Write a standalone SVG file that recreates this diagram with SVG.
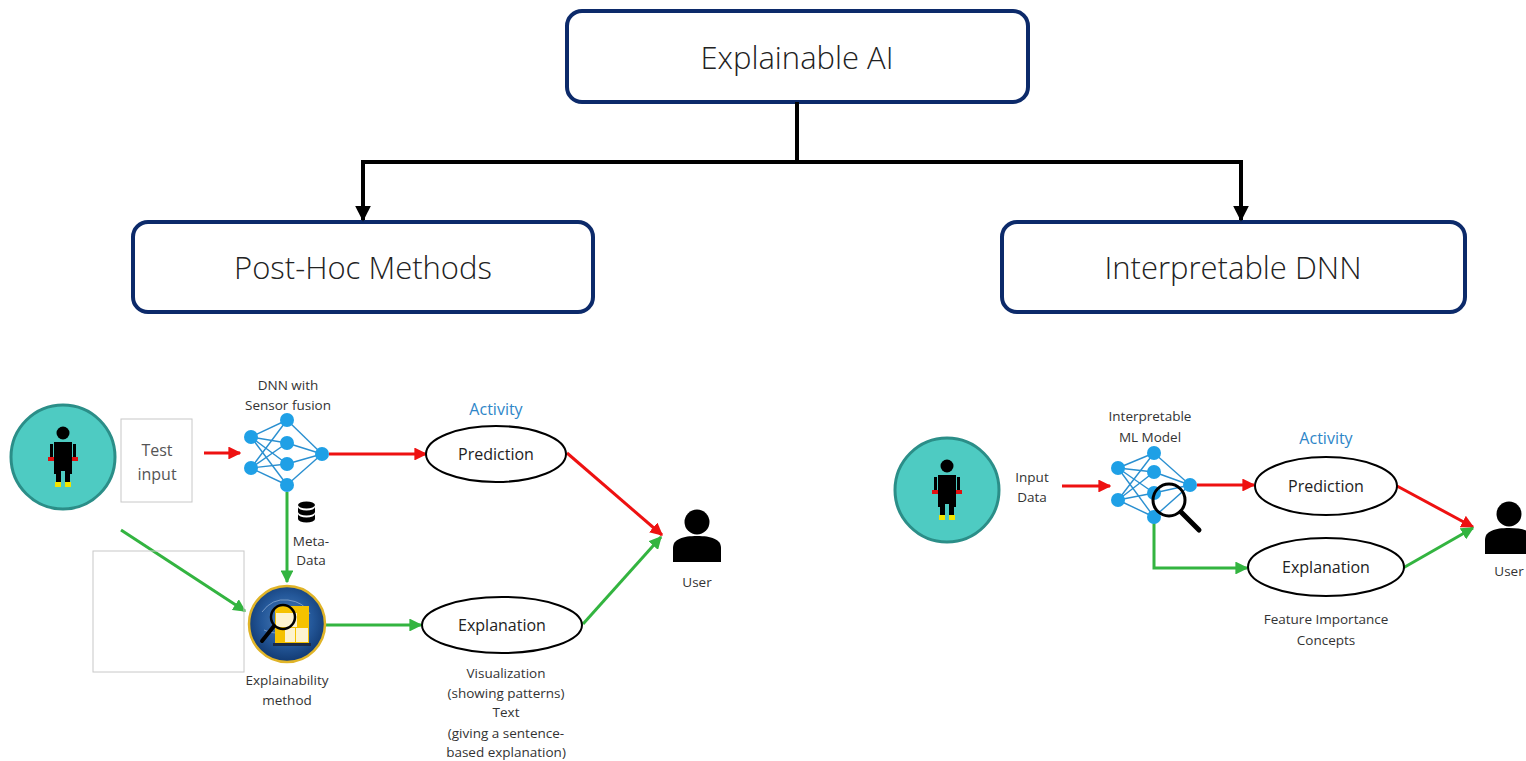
<svg xmlns="http://www.w3.org/2000/svg" width="1526" height="761" viewBox="0 0 1526 761">
  <defs>
    <style>
      .box { fill: #ffffff; stroke: #0c2a6a; stroke-width: 4; }
      .head { font-family: "Open Sans", "Liberation Sans", sans-serif; font-weight: 300; font-size: 31px; fill: #222; text-anchor: middle; }
      .lbl { font-family: "Open Sans", "Liberation Sans", sans-serif; font-size: 13.5px; fill: #333; text-anchor: middle; }
      .oval { font-family: "Open Sans", "Liberation Sans", sans-serif; font-size: 16px; fill: #222; text-anchor: middle; }
      .act { font-family: "Open Sans", "Liberation Sans", sans-serif; font-size: 16px; fill: #2e86c8; text-anchor: middle; }
      .ell { fill: #ffffff; stroke: #000; stroke-width: 2; }
      .tree { fill: none; stroke: #000; stroke-width: 4; }
      .red { fill: none; stroke: #ee1111; stroke-width: 3; }
      .green { fill: none; stroke: #33b440; stroke-width: 3; }
      .nnl { stroke: #2a8fd0; stroke-width: 1.4; }
      .nnn { fill: #1fa0e6; }
      .teal { fill: #4ecbc2; stroke: #2b8e88; stroke-width: 3; }
    </style>
    <marker id="blackHead" viewBox="0 0 10 10" refX="9" refY="5" markerWidth="4" markerHeight="4" orient="auto">
      <path d="M0,0 L10,5 L0,10 z" fill="#000"/>
    </marker>
    <marker id="redHead" viewBox="0 0 10 10" refX="9" refY="5" markerWidth="4.3" markerHeight="4.3" orient="auto">
      <path d="M0,0 L10,5 L0,10 z" fill="#ee1111"/>
    </marker>
    <marker id="greenHead" viewBox="0 0 10 10" refX="9" refY="5" markerWidth="4.3" markerHeight="4.3" orient="auto">
      <path d="M0,0 L10,5 L0,10 z" fill="#33b440"/>
    </marker>
    <radialGradient id="brain" cx="0.5" cy="0.45" r="0.55">
      <stop offset="0" stop-color="#4f7fb8"/>
      <stop offset="0.6" stop-color="#24589a"/>
      <stop offset="1" stop-color="#123a72"/>
    </radialGradient>
    <!-- stick figure wearing sensors -->
    <g id="wearer">
      <circle cx="0" cy="-24" r="6.5" fill="#000"/>
      <path d="M-9,-15 h18 v32 h-2 v13 h-5 v-16 h-4 v16 h-5 v-13 h-2 z" fill="#000"/>
      <path d="M-13,-13 h3 v17 h-3 z M10,-13 h3 v17 h-3 z" fill="#000"/>
      <rect x="-15" y="0" width="6" height="4" fill="#e01010"/>
      <rect x="9" y="0" width="6" height="4" fill="#e01010"/>
      <rect x="-8" y="25" width="6" height="5" fill="#f2e600"/>
      <rect x="2" y="25" width="6" height="5" fill="#f2e600"/>
    </g>
    <g id="user">
      <circle cx="0" cy="0" r="12.5" fill="#000"/>
      <path d="M-24,40 V26 C-24,17 -14,14 0,14 C14,14 24,17 24,26 V40 z" fill="#000"/>
    </g>
  </defs>

  <!-- hierarchy boxes -->
  <g id="explainable-ai">
    <rect class="box" x="567" y="11" width="461" height="91" rx="15"/>
    <text class="head" x="797" y="69">Explainable AI</text>
  </g>
  <g id="post-hoc">
    <rect class="box" x="133" y="222" width="460" height="90" rx="15"/>
    <text class="head" x="363" y="279">Post-Hoc Methods</text>
  </g>
  <g id="interpretable-dnn">
    <rect class="box" x="1002" y="222" width="463" height="90" rx="15"/>
    <text class="head" x="1233" y="279">Interpretable DNN</text>
  </g>

  <!-- connectors -->
  <g id="connectors">
    <path class="tree" d="M797,102 V162"/>
    <path class="tree" d="M363,162 H1241"/>
    <path class="tree" d="M363,160 V220" marker-end="url(#blackHead)"/>
    <path class="tree" d="M1241,160 V220" marker-end="url(#blackHead)"/>

    <!-- post-hoc flow -->
    <path class="red" d="M204,453 H240" marker-end="url(#redHead)"/>
    <path class="red" d="M329,454 H426" marker-end="url(#redHead)"/>
    <path class="red" d="M567,453 L662,535" marker-end="url(#redHead)"/>
    <path class="green" d="M287,492 V582" marker-end="url(#greenHead)"/>
    <path class="green" d="M121,530 L245,611" marker-end="url(#greenHead)"/>
    <path class="green" d="M326,625 H421" marker-end="url(#greenHead)"/>
    <path class="green" d="M583,624 L661,537" marker-end="url(#greenHead)"/>

    <!-- interpretable flow -->
    <path class="red" d="M1062,486 H1110" marker-end="url(#redHead)"/>
    <path class="red" d="M1197,485 H1254" marker-end="url(#redHead)"/>
    <path class="red" d="M1397,486 L1473,527" marker-end="url(#redHead)"/>
    <path class="green" d="M1154,522 V568 H1247" marker-end="url(#greenHead)"/>
    <path class="green" d="M1403,568 L1473,528" marker-end="url(#greenHead)"/>
  </g>

  <!-- ===== post-hoc side ===== -->
  <g id="sensor-subject-left">
    <circle class="teal" cx="63" cy="457" r="52"/>
    <use href="#wearer" x="63" y="457"/>
  </g>
  <g id="test-input">
    <rect x="121" y="419" width="71" height="83" fill="#fff" stroke="#c8c8c8" stroke-width="1"/>
    <text class="lbl" x="157" y="456" style="font-size:16px;fill:#555">Test</text>
    <text class="lbl" x="157" y="480" style="font-size:16px;fill:#555">input</text>
  </g>
  <g id="dnn-fusion">
    <text class="lbl" x="288" y="390">DNN with</text>
    <text class="lbl" x="288" y="410">Sensor fusion</text>
    <g class="nnl">
      <line x1="251" y1="437" x2="287" y2="420"/><line x1="251" y1="437" x2="287" y2="443"/>
      <line x1="251" y1="437" x2="287" y2="464"/><line x1="251" y1="437" x2="287" y2="485"/>
      <line x1="251" y1="468" x2="287" y2="420"/><line x1="251" y1="468" x2="287" y2="443"/>
      <line x1="251" y1="468" x2="287" y2="464"/><line x1="251" y1="468" x2="287" y2="485"/>
      <line x1="287" y1="420" x2="322" y2="454"/><line x1="287" y1="443" x2="322" y2="454"/>
      <line x1="287" y1="464" x2="322" y2="454"/><line x1="287" y1="485" x2="322" y2="454"/>
    </g>
    <g class="nnn">
      <circle cx="251" cy="437" r="7"/><circle cx="251" cy="468" r="7"/>
      <circle cx="287" cy="420" r="7"/><circle cx="287" cy="443" r="7"/>
      <circle cx="287" cy="464" r="7"/><circle cx="287" cy="485" r="7"/>
      <circle cx="322" cy="454" r="7"/>
    </g>
  </g>
  <g id="meta-data">
    <g fill="#000">
      <ellipse cx="306.5" cy="505" rx="8.5" ry="3.5"/>
      <path d="M298,507 v5 a8.5,3.5 0 0 0 17,0 v-5 a8.5,3.5 0 0 1 -17,0 z"/>
      <path d="M298,514 v5 a8.5,3.5 0 0 0 17,0 v-5 a8.5,3.5 0 0 1 -17,0 z"/>
    </g>
    <text class="lbl" x="311" y="546">Meta-</text>
    <text class="lbl" x="311" y="565">Data</text>
  </g>
  <g id="placeholder-frame">
    <rect x="93" y="551" width="151" height="121" fill="none" stroke="#c8c8c8" stroke-width="1"/>
  </g>
  <g id="explainability-method">
    <circle cx="287" cy="624" r="38" fill="url(#brain)" stroke="#e0b428" stroke-width="2.5"/>
    <path d="M262,612 q10,-14 26,-12 q16,2 22,14 M264,630 q12,6 24,0 q10,-6 20,2" fill="none" stroke="#a9c2e0" stroke-width="1" opacity="0.6"/>
    <rect x="275" y="606" width="34" height="37" fill="#f5c200"/>
    <rect x="276" y="613" width="21" height="14" fill="#fdf3cf"/>
    <rect x="296" y="628" width="12" height="14" fill="#fdf3cf"/>
    <rect x="285" y="628" width="10" height="14" fill="#fdf3cf"/>
    <rect x="273" y="643" width="38" height="3" fill="#1c2a44"/>
    <circle cx="283" cy="617" r="12" fill="none" stroke="#000" stroke-width="2.5"/>
    <line x1="274" y1="626" x2="262" y2="641" stroke="#000" stroke-width="4" stroke-linecap="round"/>
    <text class="lbl" x="287" y="685">Explainability</text>
    <text class="lbl" x="287" y="705">method</text>
  </g>
  <g id="prediction-left">
    <text class="act" x="496" y="415">Activity</text>
    <ellipse class="ell" cx="496" cy="454" rx="70" ry="28"/>
    <text class="oval" x="496" y="460">Prediction</text>
  </g>
  <g id="explanation-left">
    <ellipse class="ell" cx="502" cy="625" rx="80" ry="28"/>
    <text class="oval" x="502" y="631">Explanation</text>
    <text class="lbl" x="506" y="678">Visualization</text>
    <text class="lbl" x="506" y="698">(showing patterns)</text>
    <text class="lbl" x="506" y="717">Text</text>
    <text class="lbl" x="506" y="738">(giving a sentence-</text>
    <text class="lbl" x="506" y="757">based explanation)</text>
  </g>
  <g id="user-left">
    <use href="#user" x="697" y="522"/>
    <text class="lbl" x="697" y="587">User</text>
  </g>

  <!-- ===== interpretable side ===== -->
  <g id="sensor-subject-right">
    <circle class="teal" cx="947" cy="490" r="52"/>
    <use href="#wearer" x="947" y="490"/>
  </g>
  <g id="input-data">
    <text class="lbl" x="1032" y="482">Input</text>
    <text class="lbl" x="1032" y="502">Data</text>
  </g>
  <g id="interpretable-model">
    <text class="lbl" x="1150" y="421">Interpretable</text>
    <text class="lbl" x="1150" y="442">ML Model</text>
    <g class="nnl">
      <line x1="1118" y1="468" x2="1154" y2="453"/><line x1="1118" y1="468" x2="1154" y2="472"/>
      <line x1="1118" y1="468" x2="1154" y2="493"/><line x1="1118" y1="468" x2="1154" y2="517"/>
      <line x1="1118" y1="500" x2="1154" y2="453"/><line x1="1118" y1="500" x2="1154" y2="472"/>
      <line x1="1118" y1="500" x2="1154" y2="493"/><line x1="1118" y1="500" x2="1154" y2="517"/>
      <line x1="1154" y1="453" x2="1190" y2="485"/><line x1="1154" y1="472" x2="1190" y2="485"/>
      <line x1="1154" y1="493" x2="1190" y2="485"/><line x1="1154" y1="517" x2="1190" y2="485"/>
    </g>
    <g class="nnn">
      <circle cx="1118" cy="468" r="7"/><circle cx="1118" cy="500" r="7"/>
      <circle cx="1154" cy="453" r="7"/><circle cx="1154" cy="472" r="7"/>
      <circle cx="1154" cy="493" r="7"/><circle cx="1154" cy="517" r="7"/>
      <circle cx="1190" cy="485" r="7"/>
    </g>
    <circle cx="1169" cy="500" r="16" fill="none" stroke="#000" stroke-width="3"/>
    <line x1="1181" y1="512" x2="1199" y2="530" stroke="#000" stroke-width="5" stroke-linecap="round"/>
  </g>
  <g id="prediction-right">
    <text class="act" x="1326" y="444">Activity</text>
    <ellipse class="ell" cx="1326" cy="486" rx="71" ry="29"/>
    <text class="oval" x="1326" y="492">Prediction</text>
  </g>
  <g id="explanation-right">
    <ellipse class="ell" cx="1326" cy="567" rx="78" ry="29"/>
    <text class="oval" x="1326" y="573">Explanation</text>
    <text class="lbl" x="1326" y="624">Feature Importance</text>
    <text class="lbl" x="1326" y="645">Concepts</text>
  </g>
  <g id="user-right">
    <use href="#user" x="1509" y="514"/>
    <text class="lbl" x="1509" y="576">User</text>
  </g>
</svg>
